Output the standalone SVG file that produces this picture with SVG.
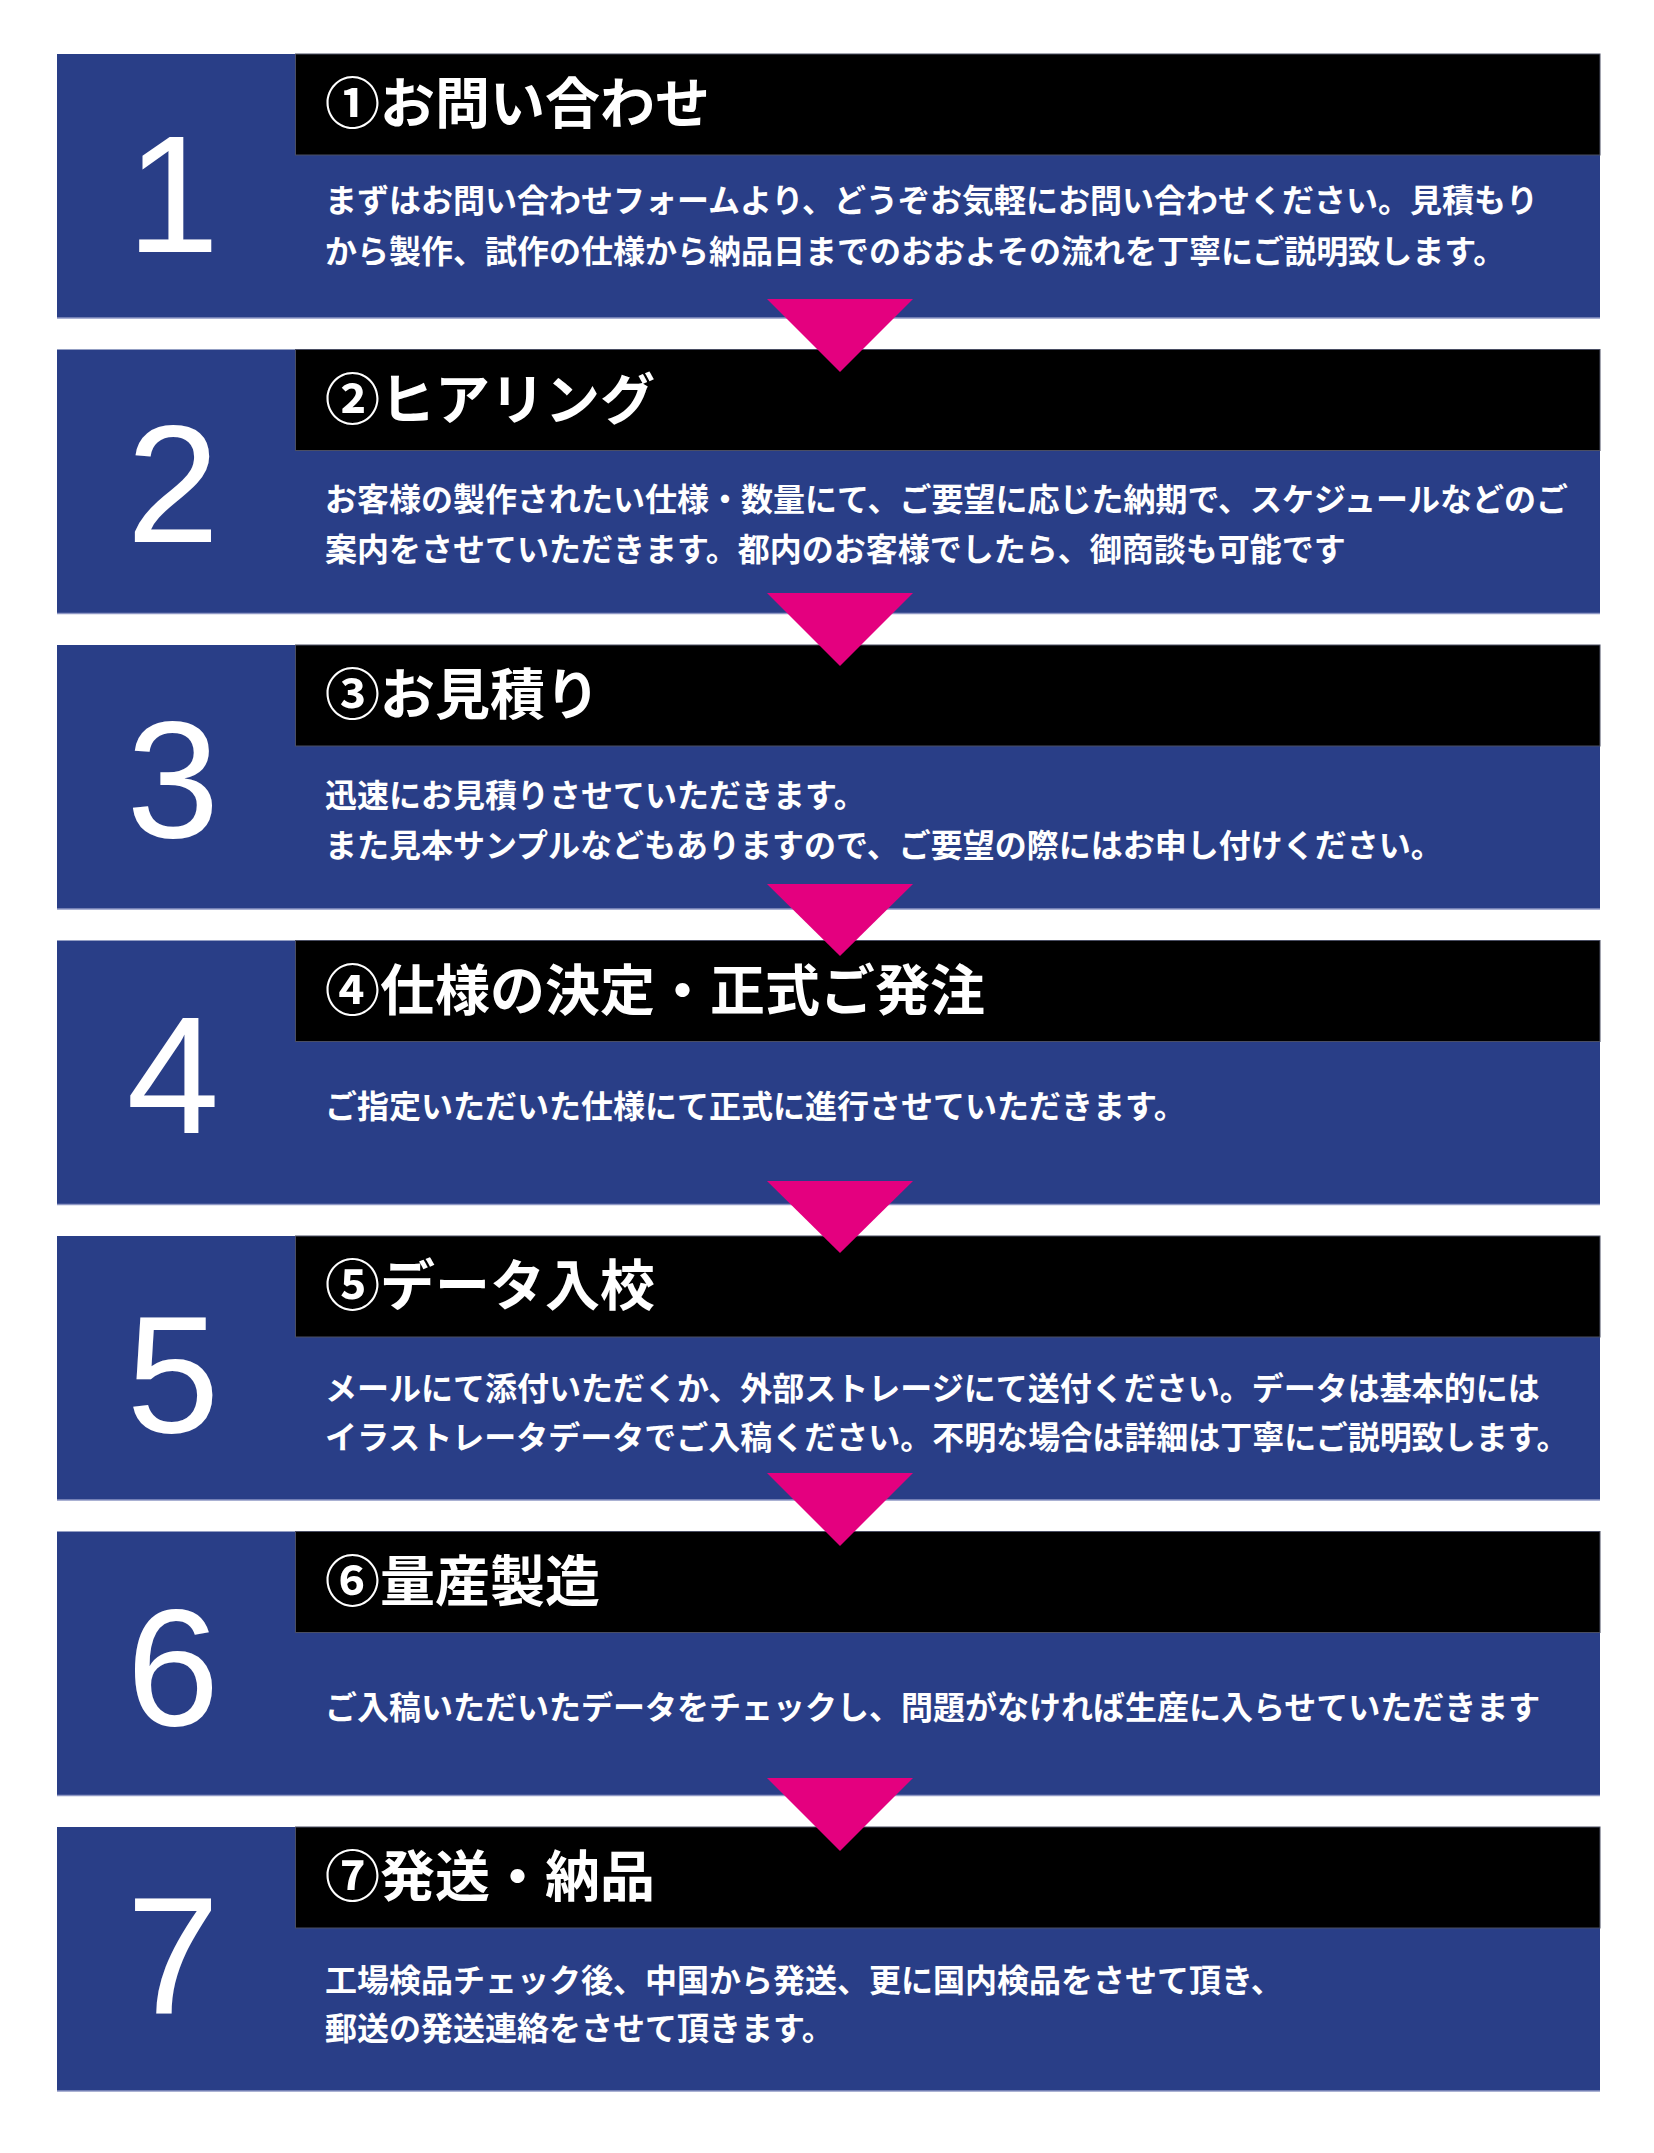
<svg xmlns="http://www.w3.org/2000/svg" width="1654" height="2153" viewBox="0 0 1654 2153">
<style>
.bg{fill:#ffffff}
.box{fill:#293e87}
.edge{stroke:#8e97c4;stroke-width:1.5}
.head{fill:#000000;stroke:#4a4e63;stroke-width:1}
.num{font-family:"Liberation Sans",Arial,sans-serif;font-size:167px;fill:#ffffff;text-anchor:middle}
.ttl{font-family:"Noto Sans CJK JP","Noto Sans CJK SC",sans-serif;font-size:55px;font-weight:700;fill:#ffffff}
.txt{font-family:"Noto Sans CJK JP","Noto Sans CJK SC",sans-serif;font-size:32px;font-weight:700;fill:#ffffff}
.tri{fill:#e4007f}
</style>
<rect class="bg" x="0" y="0" width="1654" height="2153"/>

<g id="step1">
<rect class="box" x="57" y="54" width="1543" height="264"/>
<line class="edge" x1="57" y1="318" x2="1600" y2="318"/>
<rect class="head" x="295.5" y="54" width="1304.5" height="101"/>
<text class="num" x="173" y="252">1</text>
<text class="ttl" x="325" y="123">①お問い合わせ</text>
<text class="txt" x="325" y="212">まずはお問い合わせフォームより、どうぞお気軽にお問い合わせください。見積もり</text>
<text class="txt" x="325" y="263">から製作、試作の仕様から納品日までのおおよその流れを丁寧にご説明致します。</text>
</g>

<g id="step2">
<rect class="box" x="57" y="349.5" width="1543" height="264"/>
<line class="edge" x1="57" y1="613.5" x2="1600" y2="613.5"/>
<rect class="head" x="295.5" y="349.5" width="1304.5" height="101"/>
<text class="num" x="173" y="542">2</text>
<text class="ttl" x="325" y="418.5">②ヒアリング</text>
<text class="txt" x="325" y="511">お客様の製作されたい仕様・数量にて、ご要望に応じた納期で、スケジュールなどのご</text>
<text class="txt" x="325" y="561">案内をさせていただきます。都内のお客様でしたら、御商談も可能です</text>
</g>

<g id="step3">
<rect class="box" x="57" y="645" width="1543" height="264"/>
<line class="edge" x1="57" y1="909" x2="1600" y2="909"/>
<rect class="head" x="295.5" y="645" width="1304.5" height="101"/>
<text class="num" x="173" y="837">3</text>
<text class="ttl" x="325" y="714">③お見積り</text>
<text class="txt" x="325" y="807">迅速にお見積りさせていただきます。</text>
<text class="txt" x="325" y="857">また見本サンプルなどもありますので、ご要望の際にはお申し付けください。</text>
</g>

<g id="step4">
<rect class="box" x="57" y="940.5" width="1543" height="264"/>
<line class="edge" x1="57" y1="1204.5" x2="1600" y2="1204.5"/>
<rect class="head" x="295.5" y="940.5" width="1304.5" height="101"/>
<text class="num" x="173" y="1133">4</text>
<text class="ttl" x="325" y="1009.5">④仕様の決定・正式ご発注</text>
<text class="txt" x="325" y="1118">ご指定いただいた仕様にて正式に進行させていただきます。</text>
</g>

<g id="step5">
<rect class="box" x="57" y="1236" width="1543" height="264"/>
<line class="edge" x1="57" y1="1500" x2="1600" y2="1500"/>
<rect class="head" x="295.5" y="1236" width="1304.5" height="101"/>
<text class="num" x="173" y="1432">5</text>
<text class="ttl" x="325" y="1305">⑤データ入校</text>
<text class="txt" x="325" y="1400">メールにて添付いただくか、外部ストレージにて送付ください。データは基本的には</text>
<text class="txt" x="325" y="1449">イラストレータデータでご入稿ください。不明な場合は詳細は丁寧にご説明致します。</text>
</g>

<g id="step6">
<rect class="box" x="57" y="1531.5" width="1543" height="264"/>
<line class="edge" x1="57" y1="1795.5" x2="1600" y2="1795.5"/>
<rect class="head" x="295.5" y="1531.5" width="1304.5" height="101"/>
<text class="num" x="173" y="1725">6</text>
<text class="ttl" x="325" y="1600.5">⑥量産製造</text>
<text class="txt" x="325" y="1719">ご入稿いただいたデータをチェックし、問題がなければ生産に入らせていただきます</text>
</g>

<g id="step7">
<rect class="box" x="57" y="1827" width="1543" height="264"/>
<line class="edge" x1="57" y1="2091" x2="1600" y2="2091"/>
<rect class="head" x="295.5" y="1827" width="1304.5" height="101"/>
<text class="num" x="173" y="2014">7</text>
<text class="ttl" x="325" y="1896">⑦発送・納品</text>
<text class="txt" x="325" y="1992">工場検品チェック後、中国から発送、更に国内検品をさせて頂き、</text>
<text class="txt" x="325" y="2040">郵送の発送連絡をさせて頂きます。</text>
</g>

<g id="connectors">
<polygon class="tri" points="767,299 913,299 840,372"/>
<polygon class="tri" points="767,593 913,593 840,666"/>
<polygon class="tri" points="767,884 913,884 840,956"/>
<polygon class="tri" points="767,1181 913,1181 840,1253"/>
<polygon class="tri" points="767,1473 913,1473 840,1546"/>
<polygon class="tri" points="767,1778 913,1778 840,1851"/>
</g>
</svg>
